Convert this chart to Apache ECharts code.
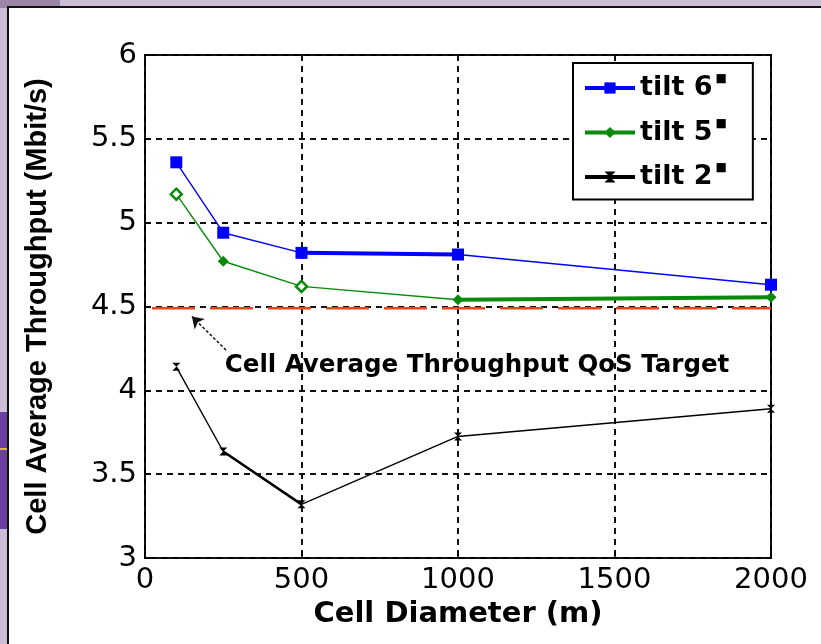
<!DOCTYPE html>
<html>
<head>
<meta charset="utf-8">
<script src="https://cdn.jsdelivr.net/npm/echarts@6/dist/echarts.min.js"></script>
<style>
  html, body { margin: 0; padding: 0; background: #fff; }
  #chart { width: 821px; height: 644px; }
</style>
</head>
<body>
<div id="chart"></div>
<script>
// Cell diameter (m) at which each antenna tilt was simulated
const diameters = [100, 250, 500, 1000, 2000];
// Cell average throughput (Mbit/s) per tilt
const tilt6 = [5.36, 4.94, 4.82, 4.81, 4.63];
const tilt5 = [5.17, 4.77, 4.62, 4.54, 4.555];
const tilt2 = [4.14, 3.635, 3.32, 3.725, 3.89];
const seriesNames = ['tilt 6', 'tilt 5', 'tilt 2'];
// QoS target and its annotation
const qosTarget = 4.49;
const qosSpan = [0, 2000];
const qosLabel = 'Cell Average Throughput QoS Target';
const qosLabelAt = [255, 4.145];
const arrowFrom = [259, 4.24];
const arrowTo = [150, 4.44];
// Axes
const xRange = [0, 2000, 500];
const yRange = [3, 6, 0.5];
const xAxisTitle = 'Cell Diameter (m)';
const yAxisTitle = 'Cell Average Throughput (Mbit/s)';

const BLUE = '#0000ff', GREEN = '#0a8a0a', BLACK = '#000000', RED = '#e8441e';
const pts = vals => vals.map((v, i) => [diameters[i], v]);

function mainSeries(name, vals, color, symbol, size, hollow) {
  return {
    type: 'line', name, z: 4,
    data: pts(vals).map((p, i) => hollow.includes(i)
      ? { value: p, itemStyle: { color: '#fff', borderColor: color, borderWidth: 2.5 } }
      : { value: p }),
    symbol, symbolSize: size, showSymbol: true,
    lineStyle: { color, width: 1.4 },
    itemStyle: { color, borderColor: color, borderWidth: 0 },
    emphasis: { disabled: true }, animation: false
  };
}
// heavier stroke over one segment of a curve
function heavySegment(vals, start, color, width) {
  return {
    type: 'line', name: '_seg', z: 3, silent: true,
    data: pts(vals).slice(start, start + 2),
    symbol: 'none', lineStyle: { color, width },
    emphasis: { disabled: true }, animation: false
  };
}

const chart = echarts.init(document.getElementById('chart'), null, { renderer: 'canvas' });

const tickFont = { fontFamily: 'DejaVu Sans', fontSize: 29, color: '#000' };
const gridLine = { show: true, lineStyle: { color: '#111', width: 2, type: [6, 5] } };

chart.setOption({
  backgroundColor: '#ffffff',
  animation: false,
  graphic: { elements: [
    { type: 'rect', z: -20, shape: { x: 0, y: 0, width: 821, height: 644 }, style: { fill: '#cdbdd6' } },
    { type: 'rect', z: -19, shape: { x: 0, y: 0, width: 60, height: 8 }, style: { fill: '#9b86a6' } },
    { type: 'rect', z: -19, shape: { x: 0, y: 412, width: 9, height: 117 }, style: { fill: '#6c3fa2' } },
    { type: 'rect', z: -18, shape: { x: 0, y: 448, width: 9, height: 2 }, style: { fill: '#e3b53a' } },
    { type: 'rect', z: -17, shape: { x: 8, y: 7, width: 830, height: 650 },
      style: { fill: '#ffffff', stroke: '#111', lineWidth: 2 } }
  ] },
  grid: {
    left: 145, right: 50, top: 55, bottom: 86,
    show: true, borderColor: '#000', borderWidth: 2, backgroundColor: 'transparent'
  },
  legend: {
    data: seriesNames,
    orient: 'vertical',
    left: 573, top: 63,
    padding: [10, 26, 9, 10],
    itemGap: 16,
    itemWidth: 50, itemHeight: 14,
    backgroundColor: '#fff',
    borderColor: '#000', borderWidth: 2,
    lineStyle: { width: 4 },
    selectedMode: false,
    formatter: n => `{t|${n}}{d|■}`,
    textStyle: {
      rich: {
        t: { fontFamily: 'DejaVu Sans', fontWeight: 'bold', fontSize: 27, color: '#000', lineHeight: 30 },
        d: { fontFamily: 'DejaVu Sans', fontSize: 12, color: '#000', verticalAlign: 'top', lineHeight: 12, padding: [0, 0, 0, 3] }
      }
    }
  },
  xAxis: {
    type: 'value', min: xRange[0], max: xRange[1], interval: xRange[2],
    name: xAxisTitle, nameLocation: 'middle', nameGap: 28,
    nameTextStyle: { fontFamily: 'DejaVu Sans', fontWeight: 'bold', fontSize: 29, color: '#000' },
    axisLine: { show: false },
    axisTick: { show: true, inside: true, length: 6, lineStyle: { color: '#000', width: 1.5 } },
    axisLabel: Object.assign({ margin: 8, formatter: v => String(v) }, tickFont),
    splitLine: gridLine
  },
  yAxis: {
    type: 'value', min: yRange[0], max: yRange[1], interval: yRange[2],
    name: yAxisTitle, nameLocation: 'middle', nameGap: 93, nameRotate: 90,
    nameTextStyle: { fontFamily: 'Liberation Sans', fontWeight: 'bold', fontSize: 29, color: '#000' },
    axisLine: { show: false },
    axisTick: { show: true, inside: true, length: 6, lineStyle: { color: '#000', width: 1.5 } },
    axisLabel: Object.assign({ margin: 8, formatter: v => String(v) }, tickFont),
    splitLine: gridLine
  },
  series: [
    {
      type: 'line', name: 'QoS target', z: 2, silent: true,
      data: qosSpan.map(x => [x, qosTarget]),
      symbol: 'none',
      lineStyle: { color: RED, width: 2.5, type: [43, 15], dashOffset: -7 },
      emphasis: { disabled: true }, animation: false,
      markLine: {
        silent: true, animation: false,
        symbol: ['none', 'arrow'], symbolSize: 11,
        label: { show: false },
        lineStyle: { color: '#111', width: 1.5, type: [3, 2] },
        data: [[{ coord: arrowFrom }, { coord: arrowTo }]]
      },
      markPoint: {
        silent: true, animation: false,
        symbol: 'circle', symbolSize: 0,
        label: {
          show: true, position: 'right', distance: 0,
          formatter: qosLabel,
          fontFamily: 'DejaVu Sans', fontWeight: 'bold', fontSize: 24.5, color: '#000'
        },
        data: [{ coord: qosLabelAt }]
      }
    },
    heavySegment(tilt6, 2, BLUE, 4),
    heavySegment(tilt5, 3, GREEN, 4),
    heavySegment(tilt2, 1, BLACK, 2.5),
    mainSeries(seriesNames[0], tilt6, BLUE, 'rect', 12, []),
    mainSeries(seriesNames[1], tilt5, GREEN, 'diamond', 11, [0, 2]),
    mainSeries(seriesNames[2], tilt2, BLACK, 'path://M0,0L10,0L0,10L10,10Z', 8, [])
  ]
});
</script>
</body>
</html>
